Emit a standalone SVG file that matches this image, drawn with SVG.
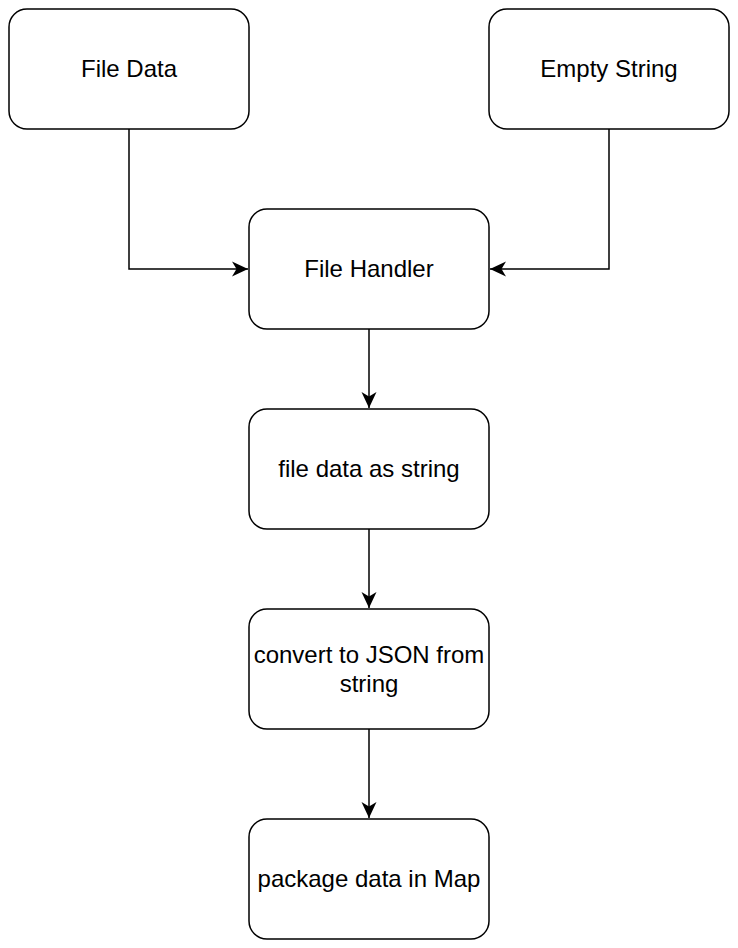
<svg xmlns="http://www.w3.org/2000/svg" width="738" height="948" viewBox="0 0 738 948">
<style>
.n{fill:#fff;stroke:#000;stroke-width:1.5}
.t{font-family:"Liberation Sans",Arial,sans-serif;font-size:24px;fill:#000;text-anchor:middle;dominant-baseline:central}
.c{fill:none;stroke:#000;stroke-width:1.5}
</style>
<defs>
<marker id="a" markerWidth="18" markerHeight="18" viewBox="0 0 18 18" refX="17" refY="9" orient="auto" markerUnits="userSpaceOnUse">
<path d="M1,1.5 L17,9 L1,16.5 L5.5,9 Z" fill="#000"/>
</marker>
</defs>
<rect width="738" height="948" fill="#fff"/>
<g id="connectors">
<path class="c" d="M129,129 V269 H248" marker-end="url(#a)"/>
<path class="c" d="M609,129 V269 H490" marker-end="url(#a)"/>
<path class="c" d="M369,329 V408" marker-end="url(#a)"/>
<path class="c" d="M369,529 V608" marker-end="url(#a)"/>
<path class="c" d="M369,729 V818" marker-end="url(#a)"/>
</g>
<g id="file-data"><rect class="n" x="9" y="9" width="240" height="120" rx="18"/><text class="t" x="129" y="68">File Data</text></g>
<g id="empty-string"><rect class="n" x="489" y="9" width="240" height="120" rx="18"/><text class="t" x="609" y="68">Empty String</text></g>
<g id="file-handler"><rect class="n" x="249" y="209" width="240" height="120" rx="18"/><text class="t" x="369" y="268">File Handler</text></g>
<g id="file-data-string"><rect class="n" x="249" y="409" width="240" height="120" rx="18"/><text class="t" x="369" y="468">file data as string</text></g>
<g id="convert-json"><rect class="n" x="249" y="609" width="240" height="120" rx="18"/><text class="t" x="369" y="654">convert to JSON from</text><text class="t" x="369" y="683">string</text></g>
<g id="package-map"><rect class="n" x="249" y="819" width="240" height="120" rx="18"/><text class="t" x="369" y="878">package data in Map</text></g>
</svg>
